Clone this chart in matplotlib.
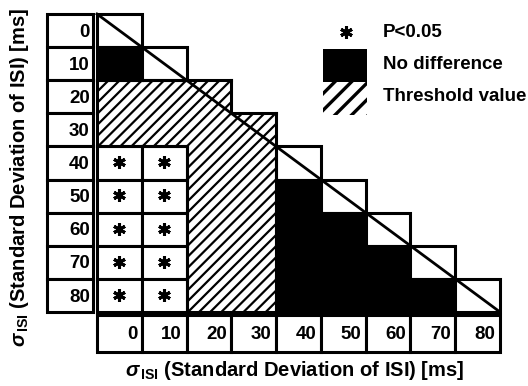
import matplotlib
matplotlib.use("Agg")
import matplotlib.pyplot as plt
from matplotlib.patches import Rectangle
from matplotlib.collections import LineCollection

plt.rcParams["font.family"] = ["Liberation Sans", "DejaVu Sans"]
plt.rcParams["font.weight"] = "bold"
plt.rcParams["mathtext.fontset"] = "custom"
plt.rcParams["mathtext.rm"] = "Liberation Sans:bold"
plt.rcParams["mathtext.it"] = "Liberation Sans:italic:bold"
plt.rcParams["hatch.linewidth"] = 1.6

sd_ms = [0, 10, 20, 30, 40, 50, 60, 70, 80]
# one string per row, from column 0 up to the diagonal
# D: diagonal, N: no difference, T: threshold value, P: P<0.05
cell_rows = [
    "D",
    "ND",
    "TTT",
    "TTTT",
    "PPTTD",
    "PPTTND",
    "PPTTNND",
    "PPTTNNND",
    "PPTTNNNND",
]
axis_label = r"$\sigma_{\,\rm ISI}$ (Standard Deviation of ISI) [ms]"
legend_labels = ["P<0.05", "No difference", "Threshold value"]

n = len(sd_ms)
lw = 2.2


def cat(r, c):
    if 0 <= r < n and 0 <= c < len(cell_rows[r]):
        return cell_rows[r][c]
    return None


fig = plt.figure(figsize=(5.28, 3.86), dpi=100)
ax = fig.add_axes([97 / 528, 1 - 312 / 386, 403 / 528, 298 / 386])
ax.set_xlim(0, n)
ax.set_ylim(n, 0)
ax.axis("off")

segs = []
for r, row in enumerate(cell_rows):
    for c, k in enumerate(row):
        if k == "T":
            ax.add_patch(Rectangle((c, r), 1, 1, facecolor="white", edgecolor="black",
                                   linewidth=0, hatch="///", clip_on=False, zorder=1))
            # outline only where the hatched area ends
            for dr, dc, seg in [(-1, 0, [(c, r), (c + 1, r)]), (1, 0, [(c, r + 1), (c + 1, r + 1)]),
                                (0, -1, [(c, r), (c, r + 1)]), (0, 1, [(c + 1, r), (c + 1, r + 1)])]:
                if cat(r + dr, c + dc) != "T":
                    segs.append(seg)
        else:
            face = "black" if k == "N" else "white"
            ax.add_patch(Rectangle((c, r), 1, 1, facecolor=face, edgecolor="black",
                                   linewidth=lw, joinstyle="miter", clip_on=False, zorder=2))
            if k == "P":
                ax.plot(c + 0.5, r + 0.48, marker=(6, 2, 0), ms=9, mew=2.2,
                        color="black", clip_on=False, zorder=4)

ax.add_collection(LineCollection(segs, colors="black", linewidths=lw,
                                 capstyle="projecting", clip_on=False, zorder=2))

# diagonal through the equal-sigma cells
ax.plot([0, n], [0, n], color="black", lw=2.0, clip_on=False, zorder=3)

# row and column label boxes
for i, v in enumerate(sd_ms):
    ax.add_patch(Rectangle((-1.116, i), 1.027, 1, facecolor="white", edgecolor="black",
                           linewidth=lw, joinstyle="miter", clip_on=False))
    ax.text(-0.16, i + 0.55, str(v), ha="right", va="center", fontsize=13.5, clip_on=False)
    ax.add_patch(Rectangle((i, 9.09), 1, 1.12, facecolor="white", edgecolor="black",
                           linewidth=lw, joinstyle="miter", clip_on=False))
    ax.text(i + 0.9, 9.67, str(v), ha="right", va="center", fontsize=13.5, clip_on=False)

# legend
ax.plot(5.56, 0.55, marker=(6, 2, 0), ms=9, mew=2.2, color="black", clip_on=False)
ax.add_patch(Rectangle((5.04, 1.06), 0.99, 0.99, facecolor="black", linewidth=0, clip_on=False))
leg_hatch = Rectangle((5.04, 2.05), 0.99, 0.99, facecolor="white", edgecolor="black",
                      linewidth=0, hatch="//", clip_on=False)
if hasattr(leg_hatch, "set_hatch_linewidth"):
    leg_hatch.set_hatch_linewidth(2.4)
ax.add_patch(leg_hatch)
for y, t in zip([0.57, 1.54, 2.48], legend_labels):
    ax.text(6.38, y, t, ha="left", va="center", fontsize=13.5, clip_on=False)

fig.text(295 / 528, 1 - 370 / 386, axis_label, ha="center", va="center", fontsize=14.5)
fig.text(20 / 528, 1 - 177 / 386, axis_label, ha="center", va="center", fontsize=14.5,
         rotation=90)

fig.savefig("out.png", dpi=100)
